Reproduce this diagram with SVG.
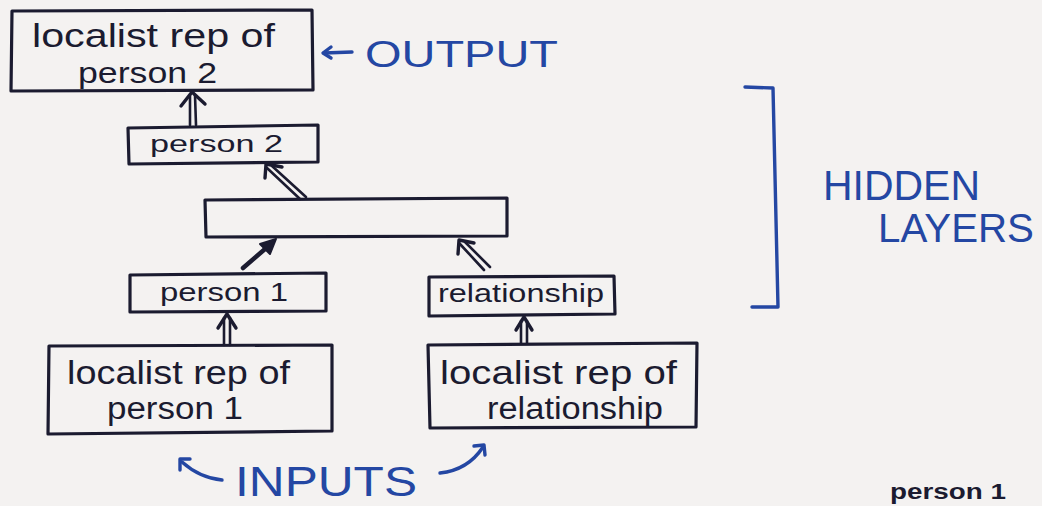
<svg xmlns="http://www.w3.org/2000/svg" width="1042" height="506" viewBox="0 0 1042 506">
  <defs>
    <style>
      .box { fill: none; stroke: #1b1b30; stroke-width: 3.2; stroke-linejoin: round; stroke-linecap: round; }
      .ink { fill: #1b1b30; font-family: "Liberation Sans", "Open Sans", sans-serif; }
      .blue { fill: #2447a3; font-family: "Liberation Sans", "Open Sans", sans-serif; }
      .shaft { fill: none; stroke: #1b1b30; stroke-width: 2.6; stroke-linecap: round; }
      .head { fill: none; stroke: #1b1b30; stroke-width: 3.4; stroke-linecap: round; stroke-linejoin: round; }
      .bl { fill: none; stroke: #2447a3; stroke-width: 3.4; stroke-linecap: round; stroke-linejoin: round; }
    </style>
  </defs>
  <rect width="1042" height="506" fill="#f4f2f1"/>

  <g id="connectors">
    <!-- person 2 -> output -->
    <line class="shaft" x1="190" y1="125" x2="190" y2="95"/>
    <line class="shaft" x1="196" y1="125" x2="195" y2="95"/>
    <polyline class="head" points="181,106 192,92 205,104"/>
    <!-- hidden -> person 2 -->
    <line class="shaft" x1="300" y1="199" x2="267" y2="168"/>
    <line class="shaft" x1="306" y1="197" x2="272" y2="166"/>
    <polyline class="head" points="265,178 266,164 282,167"/>
    <!-- person 1 -> hidden (single) -->
    <line x1="243" y1="268" x2="272" y2="243" stroke="#1b1b30" stroke-width="4.5" stroke-linecap="round"/>
    <polygon points="276,239 260,244 270,254" fill="#1b1b30" stroke="#1b1b30" stroke-width="2" stroke-linejoin="round"/>
    <!-- relationship -> hidden -->
    <line class="shaft" x1="484" y1="270" x2="460" y2="244"/>
    <line class="shaft" x1="490" y1="267" x2="465" y2="242"/>
    <polyline class="head" points="458,254 459,240 474,243"/>
    <!-- localist person 1 -> person 1 -->
    <line class="shaft" x1="224" y1="345" x2="224" y2="318"/>
    <line class="shaft" x1="230" y1="345" x2="230" y2="318"/>
    <polyline class="head" points="218,328 227,314 236,328"/>
    <!-- localist relationship -> relationship -->
    <line class="shaft" x1="521" y1="343" x2="521" y2="321"/>
    <line class="shaft" x1="527" y1="343" x2="527" y2="321"/>
    <polyline class="head" points="516,330 524,317 532,330"/>
  </g>

  <g id="output-node">
    <path class="box" d="M12,11 L312,10 L313,90 L11,91 Z"/>
    <text class="ink" x="32" y="47" font-size="33" textLength="243" lengthAdjust="spacingAndGlyphs">localist rep of</text>
    <text class="ink" x="78" y="83" font-size="30" textLength="139" lengthAdjust="spacingAndGlyphs">person 2</text>
  </g>

  <g id="person2-node">
    <path class="box" d="M128,128 L318,125 L318,162 L129,164 Z"/>
    <text class="ink" x="150" y="152" font-size="24" textLength="133" lengthAdjust="spacingAndGlyphs">person 2</text>
  </g>

  <g id="hidden-node">
    <path class="box" d="M205,200 L507,198 L507,236 L206,237 Z"/>
  </g>

  <g id="person1-node">
    <path class="box" d="M130,275 L326,273 L326,311 L130,312 Z"/>
    <text class="ink" x="160" y="301" font-size="25" textLength="128" lengthAdjust="spacingAndGlyphs">person 1</text>
  </g>

  <g id="relationship-node">
    <path class="box" d="M429,277 L614,276 L615,314 L429,316 Z"/>
    <text class="ink" x="438" y="302" font-size="25" textLength="166" lengthAdjust="spacingAndGlyphs">relationship</text>
  </g>

  <g id="localist-person1-node">
    <path class="box" d="M49,346 L332,345 L332,431 L48,434 Z"/>
    <text class="ink" x="67" y="384" font-size="33" textLength="223" lengthAdjust="spacingAndGlyphs">localist rep of</text>
    <text class="ink" x="107" y="419" font-size="31" textLength="136" lengthAdjust="spacingAndGlyphs">person 1</text>
  </g>

  <g id="localist-relationship-node">
    <path class="box" d="M428,345 L697,343 L696,427 L430,428 Z"/>
    <text class="ink" x="440" y="384" font-size="33" textLength="237" lengthAdjust="spacingAndGlyphs">localist rep of</text>
    <text class="ink" x="487" y="419" font-size="31" textLength="176" lengthAdjust="spacingAndGlyphs">relationship</text>
  </g>

  <g id="output-label">
    <line class="bl" x1="352" y1="52" x2="324" y2="53"/>
    <polyline class="bl" points="331,47 323,53 331,58"/>
    <text class="blue" x="365" y="67" font-size="37" textLength="193" lengthAdjust="spacingAndGlyphs">OUTPUT</text>
  </g>

  <g id="hidden-layers-label">
    <polyline class="bl" points="745,87 773,88 778,307 752,307"/>
    <text class="blue" x="823" y="200" font-size="43" textLength="157" lengthAdjust="spacingAndGlyphs">HIDDEN</text>
    <text class="blue" x="878" y="242" font-size="40" textLength="156" lengthAdjust="spacingAndGlyphs">LAYERS</text>
  </g>

  <g id="inputs-label">
    <path class="bl" d="M222,480 Q200,478 182,462"/>
    <polyline class="bl" points="180,470 180,459 190,459"/>
    <text class="blue" x="235" y="496" font-size="42" textLength="182" lengthAdjust="spacingAndGlyphs">INPUTS</text>
    <path class="bl" d="M440,473 Q468,470 483,447"/>
    <polyline class="bl" points="474,446 484,445 485,455"/>
  </g>

  <g id="corner-note">
    <text class="ink" x="890" y="499" font-size="22" font-weight="bold" textLength="116" lengthAdjust="spacingAndGlyphs">person 1</text>
  </g>
</svg>
